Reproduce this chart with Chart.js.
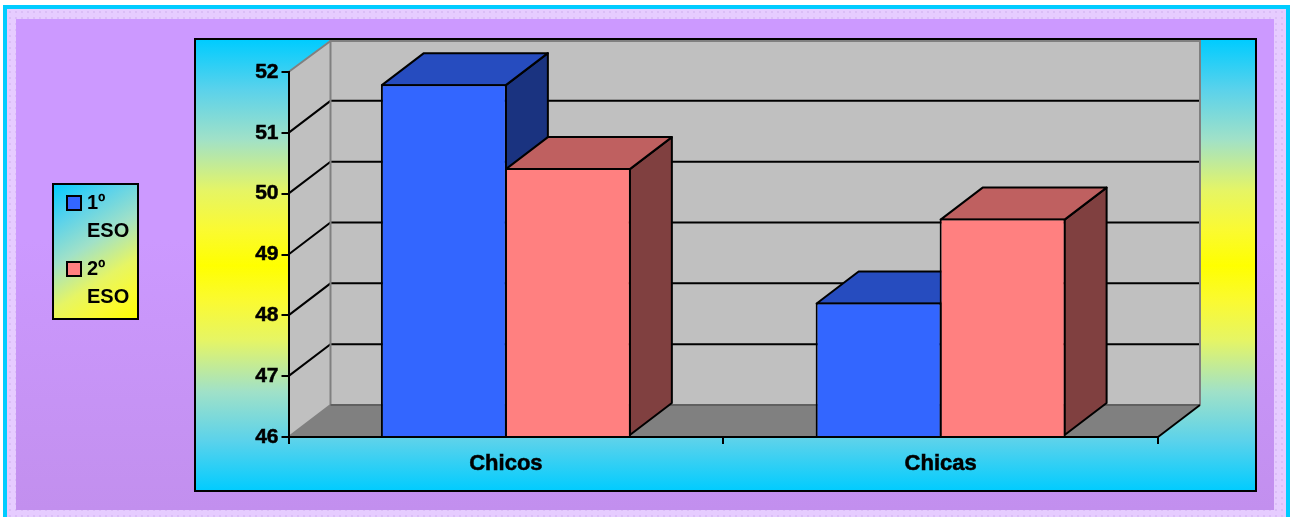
<!DOCTYPE html>
<html>
<head>
<meta charset="utf-8">
<style>
html,body{margin:0;padding:0;background:#fff;width:1290px;height:517px;overflow:hidden}
#cy{position:absolute;left:3px;top:5px;width:1287px;height:512px;background:#00CCFF}
#pale{position:absolute;left:7px;top:9px;width:1279px;height:508px;background-color:#E6CCFF;
background-image:radial-gradient(circle,#D4B6F2 0.6px,transparent 0.9px);background-size:6px 6px}
#inner{position:absolute;left:16px;top:19px;width:1258px;height:491px;background:linear-gradient(#CC99FF 0%,#CC99FF 45%,#C28FEE 100%)}
canvas{position:absolute;left:0;top:0}
</style>
</head>
<body>
<div id="cy"></div><div id="pale"></div><div id="inner"></div>
<canvas id="c" width="1290" height="517"></canvas>
<script src="https://cdn.jsdelivr.net/npm/chart.js@4"></script>
<script>
const categories = ['Chicos', 'Chicas'];
const primero = [51.8, 48.21];
const segundo = [50.42, 49.59];
const seriesNames = ['1º ESO', '2º ESO'];
const frontColors = ['#3366FF', '#FF8080'];
const topColors = ['#264CBF', '#BF6060'];
const sideColors = ['#1A3380', '#804040'];
const axisMin = 46, axisMax = 52;
const DX = 42, DY = 32;
const FONT = '"Liberation Sans", Arial, sans-serif';

function poly(ctx, pts, fill, stroke, lw) {
  ctx.beginPath();
  pts.forEach((p, i) => i ? ctx.lineTo(p[0], p[1]) : ctx.moveTo(p[0], p[1]));
  ctx.closePath();
  if (fill) { ctx.fillStyle = fill; ctx.fill(); }
  if (stroke) { ctx.strokeStyle = stroke; ctx.lineWidth = lw; ctx.lineJoin = 'round'; ctx.stroke(); }
}
function swatch(color) {
  const s = document.createElement('canvas');
  s.width = 16; s.height = 16;
  const g = s.getContext('2d');
  g.fillStyle = '#000'; g.fillRect(0, 0, 16, 16);
  g.fillStyle = color; g.fillRect(2, 2, 12, 12);
  return s;
}
function ramp(g, a, b) {
  const stops = [[0, '#00CCFF'], [0.22, '#5AD2EB'], [0.44, '#A0E1C8'], [0.67, '#E6F564'], [0.84, '#FAFA32'], [1, '#FFFF00']];
  stops.forEach(s => g.addColorStop(a + (b - a) * s[0], s[1]));
}

const scene3d = {
  id: 'scene3d',
  afterLayout(chart) {
    const l = chart.legend;
    l.left = 62; l.right = 150; l.top = 184; l.bottom = 440;
  },
  beforeDraw(chart) {
    const ctx = chart.ctx, x = chart.scales.x, y = chart.scales.y;
    ctx.save();
    const px = 195, py = 40, pw = 1061, ph = 451;
    let g = ctx.createLinearGradient(0, py, 0, py + ph);
    ramp(g, 0, 0.5); ramp(g, 1, 0.5);
    ctx.fillStyle = g; ctx.fillRect(px, py, pw, ph);
    const lx = 53, ly = 184, lw = 85, lh = 135;
    g = ctx.createLinearGradient(lx, ly, lx + lw, ly + lh);
    ramp(g, 0, 1);
    ctx.fillStyle = g; ctx.fillRect(lx, ly, lw, lh);
    ctx.strokeStyle = '#000'; ctx.lineWidth = 2;
    ctx.strokeRect(lx, ly, lw, lh);
    const L = x.left, R = x.right, T = y.top, B = y.bottom;
    poly(ctx, [[L + DX, T - DY], [R + DX, T - DY], [R + DX, B - DY], [L + DX, B - DY]], '#C0C0C0');
    poly(ctx, [[L, T], [L + DX, T - DY], [L + DX, B - DY], [L, B]], '#C0C0C0');
    poly(ctx, [[L, B], [L + DX, B - DY], [R + DX, B - DY], [R, B]], '#808080');
    ctx.lineCap = 'butt';
    ctx.strokeStyle = '#000'; ctx.lineWidth = 2;
    y.ticks.forEach(t => {
      const yy = y.getPixelForValue(t.value);
      if (t.value === axisMin || t.value === axisMax) return;
      ctx.beginPath(); ctx.moveTo(L, yy); ctx.lineTo(L + DX, yy - DY); ctx.lineTo(R + DX, yy - DY);
      ctx.stroke();
    });
    ctx.strokeStyle = '#808080'; ctx.lineWidth = 2;
    ctx.beginPath(); ctx.moveTo(L, T); ctx.lineTo(L + DX, T - DY + 1); ctx.lineTo(R + DX, T - DY + 1); ctx.lineTo(R + DX, B - DY); ctx.stroke();
    ctx.beginPath(); ctx.moveTo(L + DX, T - DY); ctx.lineTo(L + DX, B - DY); ctx.lineTo(L, B); ctx.stroke();
    ctx.strokeStyle = '#606060';
    ctx.beginPath(); ctx.moveTo(L + DX, B - DY); ctx.lineTo(R + DX, B - DY); ctx.stroke();
    ctx.strokeStyle = '#000';
    ctx.beginPath(); ctx.moveTo(R, B); ctx.lineTo(R + DX, B - DY); ctx.stroke();
    ctx.lineWidth = 2;
    ctx.strokeRect(px, py - 1, pw, ph + 1);
    ctx.restore();
  },
  beforeDatasetsDraw(chart) {
    const ctx = chart.ctx;
    ctx.save();
    const n = categories.length;
    for (let c = 0; c < n; c++) {
      chart.data.datasets.forEach((ds, d) => {
        const b = chart.getDatasetMeta(d).data[c];
        const l = b.x - b.width / 2 + 1, r = b.x + b.width / 2 - 1, t = b.y + 1, bt = b.base - 1;
        poly(ctx, [[r, t], [r + DX, t - DY], [r + DX, bt - DY], [r, bt]], sideColors[d], '#000', 2);
        poly(ctx, [[l, t], [l + DX, t - DY], [r + DX, t - DY], [r, t]], topColors[d], '#000', 2);
      });
    }
    ctx.restore();
  }
};

new Chart(document.getElementById('c'), {
  type: 'bar',
  plugins: [scene3d],
  data: {
    labels: categories,
    datasets: [
      { label: seriesNames[0], data: primero, base: axisMin, backgroundColor: frontColors[0], borderColor: '#000', borderWidth: 2 },
      { label: seriesNames[1], data: segundo, base: axisMin, backgroundColor: frontColors[1], borderColor: '#000', borderWidth: 2 }
    ]
  },
  options: {
    responsive: false,
    animation: false,
    layout: { padding: { left: 188.5, right: 132, top: 72, bottom: 30 } },
    datasets: { bar: { barPercentage: 1.016, categoryPercentage: 0.5704 } },
    plugins: {
      tooltip: { enabled: false },
      legend: {
        position: 'chartArea',
        align: 'start',
        onClick: null,
        labels: {
          usePointStyle: true,
          boxWidth: 6,
          boxHeight: 16,
          padding: 9,
          color: '#000',
          font: { family: FONT, size: 20, weight: 'bold', lineHeight: 1.425 },
          generateLabels: chart => chart.data.datasets.map((ds, i) => ({
            text: ds.label.split(' '),
            pointStyle: swatch(frontColors[i]),
            fillStyle: frontColors[i],
            strokeStyle: '#000',
            lineWidth: 2,
            hidden: false,
            datasetIndex: i
          }))
        }
      }
    },
    scales: {
      x: {
        type: 'category',
        afterFit(s) { s.height = 50; },
        border: { display: true, color: '#000', width: 2 },
        grid: { display: true, drawOnChartArea: false, drawTicks: true, tickLength: 7, color: '#000', lineWidth: 2, offset: true },
        ticks: { color: '#000', padding: 7, maxRotation: 0, textStrokeColor: '#000', textStrokeWidth: 0.5, font: { family: FONT, size: 22, weight: 'bold' } }
      },
      y: {
        min: axisMin, max: axisMax,
        afterFit(s) { s.width = 100; },
        border: { display: true, color: '#000', width: 2 },
        grid: { display: true, drawOnChartArea: false, drawTicks: true, tickLength: 7, color: '#000', lineWidth: 2 },
        ticks: { stepSize: 1, color: '#000', padding: 3, textStrokeColor: '#000', textStrokeWidth: 0.5, font: { family: FONT, size: 21, weight: 'bold' } }
      }
    }
  }
});
</script>
</body>
</html>
